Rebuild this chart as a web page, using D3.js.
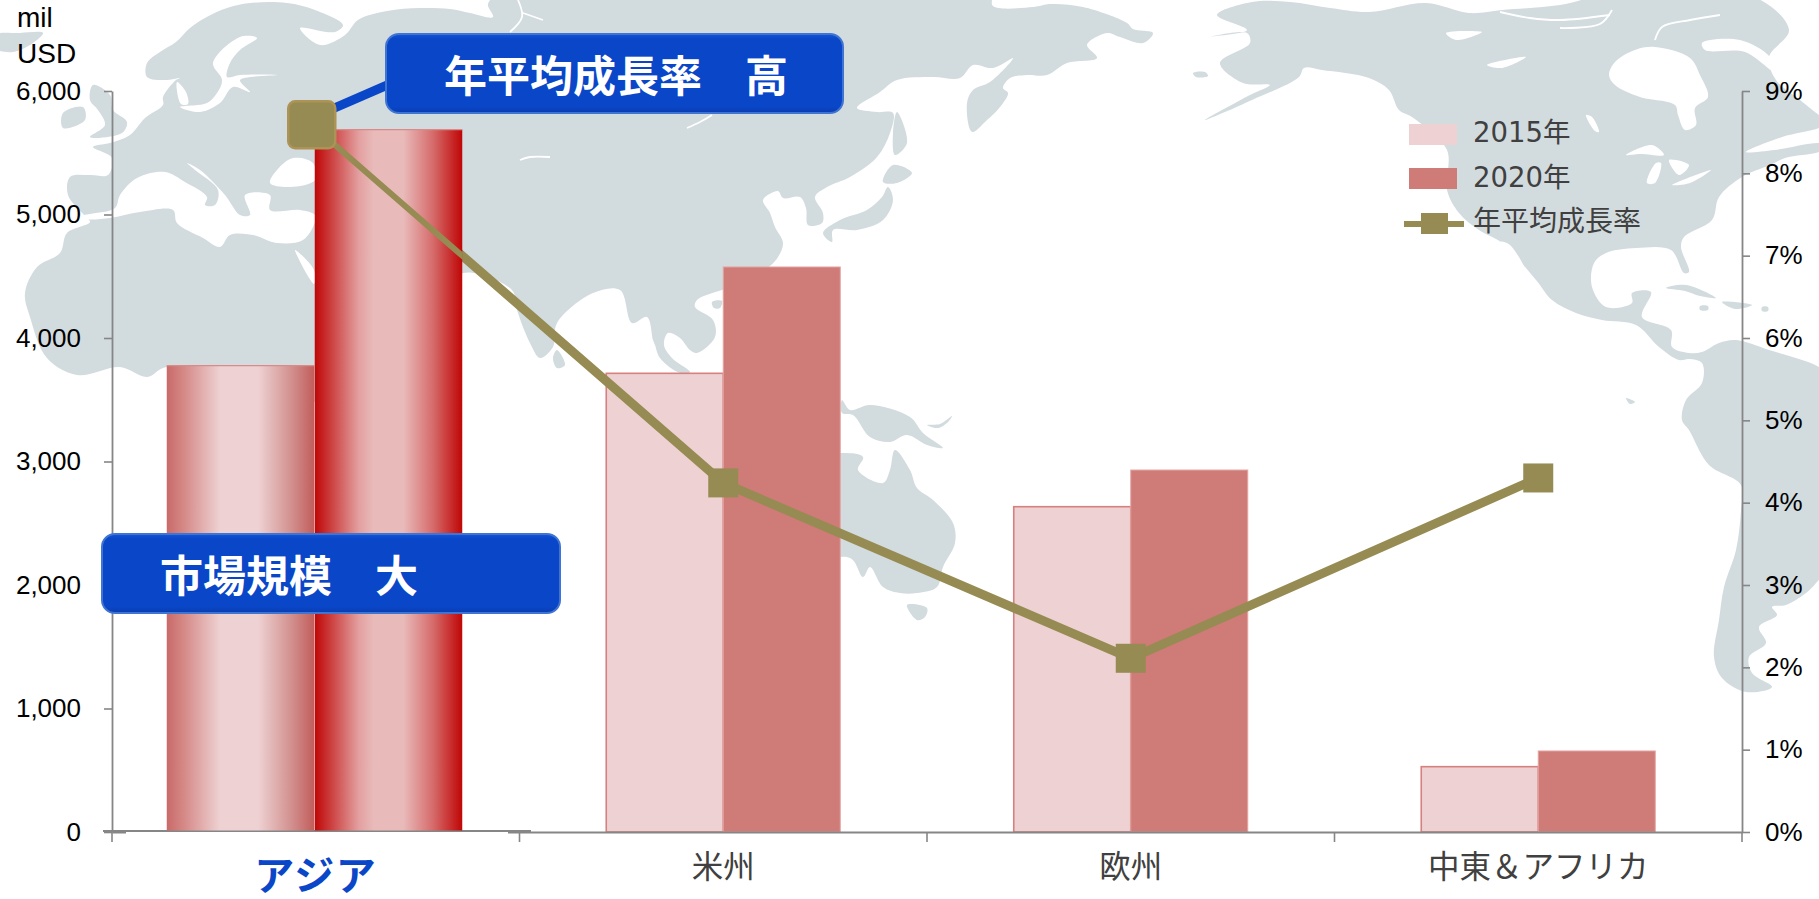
<!DOCTYPE html>
<html>
<head>
<meta charset="utf-8">
<script src="https://cdn.jsdelivr.net/npm/d3@7/dist/d3.min.js"></script>
<style>
    html, body { margin: 0; padding: 0; background: #fff; overflow: hidden; }
    svg { display: block; }
</style>
</head>
<body>
<div id="visualization"></div>
<script>
/*DATA*/
const categories = ["アジア", "米州", "欧州", "中東＆アフリカ"];
const years = ["2015年", "2020年"];
const values2015 = [3776, 3714, 2634, 529];
const values2020 = [5688, 4575, 2931, 656];
const growthRate = [8.59, 4.24, 2.11, 4.30];
const valueTicks = [0, 1000, 2000, 3000, 4000, 5000, 6000];
const rateTicks = [0, 1, 2, 3, 4, 5, 6, 7, 8, 9];
const unitLabels = ["mil", "USD"];
const rateLabel = "年平均成長率";
const calloutRate = "年平均成長率　高";
const calloutSize = "市場規模　大";

/*BACKGROUND MAP - hand traced outlines in page pixels, decoration only*/
const landShapes = [
    // Eurasia + Africa
    [[68,195],[70,177],[90,175],[108,175],[112,158],[93,147],[110,143],[130,135],[145,118],[163,105],[163,97],[176,80],[180,78],[165,80],[147,77],[147,63],[160,52],[176,42],[190,28],[205,18],[227,8],[250,3],[287,3],[315,10],[343,25],[335,32],[300,28],[320,45],[345,35],[358,20],[387,11],[420,8],[450,9],[470,13],[493,17],[488,4],[500,-6],[990,-6],[993,6],[1033,7],[1050,4],[1083,7],[1127,23],[1133,29],[1153,33],[1143,43],[1120,37],[1107,33],[1087,45],[1097,58],[1067,63],[1047,75],[1027,75],[1010,78],[1003,88],[1008,93],[1000,107],[987,120],[972,132],[967,103],[973,90],[990,82],[1013,58],[993,68],[973,65],[960,78],[933,77],[897,80],[880,92],[857,108],[877,112],[893,113],[890,133],[877,157],[850,177],[827,187],[815,197],[823,213],[822,223],[808,225],[806,208],[800,197],[783,198],[778,191],[763,200],[770,213],[775,227],[783,243],[778,257],[770,266],[740,285],[722,290],[697,300],[695,307],[713,320],[715,337],[697,353],[690,350],[680,338],[668,333],[664,345],[672,358],[690,372],[680,373],[660,358],[655,345],[653,340],[647,317],[632,323],[620,290],[593,293],[557,323],[553,347],[540,358],[530,343],[517,310],[512,290],[463,273],[440,300],[440,400],[300,400],[167,367],[147,377],[120,367],[77,375],[47,358],[30,317],[25,293],[37,267],[60,253],[67,233],[90,222],[85,216]],
    // Americas
    [[1217,15],[1252,2],[1290,2],[1330,8],[1369,12],[1426,3],[1469,13],[1502,10],[1560,5],[1602,-4],[1752,-4],[1789,30],[1769,57],[1776,80],[1800,100],[1819,115],[1830,122],[1819,128],[1782,137],[1746,152],[1775,150],[1819,143],[1830,146],[1819,152],[1785,158],[1770,165],[1742,177],[1719,197],[1712,220],[1684,237],[1681,247],[1689,272],[1684,273],[1671,250],[1636,248],[1606,253],[1594,263],[1592,287],[1606,307],[1632,303],[1632,293],[1651,292],[1642,317],[1671,330],[1672,347],[1689,353],[1702,352],[1719,343],[1736,340],[1769,350],[1819,367],[1832,380],[1832,560],[1816,583],[1806,593],[1786,605],[1772,607],[1777,615],[1759,627],[1766,643],[1749,657],[1752,673],[1772,687],[1746,692],[1722,678],[1714,657],[1719,620],[1724,587],[1736,550],[1741,510],[1741,485],[1709,465],[1689,430],[1682,420],[1686,400],[1702,383],[1702,363],[1689,359],[1679,360],[1659,347],[1636,325],[1602,320],[1576,313],[1552,300],[1536,280],[1502,243],[1479,230],[1459,213],[1447,190],[1447,150],[1412,117],[1399,110],[1389,90],[1369,78],[1322,70],[1304,68],[1299,77],[1252,100],[1205,120],[1250,95],[1270,85],[1243,83],[1220,63],[1250,43],[1247,33],[1208,37],[1247,30]],
    // Australia, Tasmania, New Guinea
    [[700,480],[841,453],[863,457],[858,470],[883,483],[890,470],[895,450],[910,470],[917,488],[933,500],[953,523],[955,543],[943,567],[937,587],[917,593],[900,593],[883,587],[870,567],[863,577],[850,558],[780,570],[700,560]],
    [[907,605],[927,608],[925,617],[917,620]],
    [[842,400],[850,410],[870,405],[910,417],[923,433],[943,448],[927,445],[907,435],[890,442],[870,437],[853,415],[842,413]],
    [[927,425],[940,424],[952,416],[948,422],[938,428]],
    // Britain, Ireland, Iceland, Sri Lanka, Hainan
    [[93,85],[110,95],[113,110],[127,122],[122,133],[90,137],[105,125],[98,110],[90,100]],
    [[63,113],[83,107],[85,120],[63,128]],
    [[-6,35],[20,33],[43,33],[33,43],[13,52],[-6,48]],
    [[557,350],[565,365],[557,368],[553,358]],
    [[712,302],[722,301],[720,308],[714,308]],
    // Japan, Sakhalin
    [[888,187],[893,200],[883,220],[857,230],[833,230],[832,242],[823,233],[840,220],[867,210],[882,197]],
    [[893,165],[912,173],[897,183],[883,182]],
    [[897,112],[907,143],[895,155],[893,133]],
    // Caribbean and small islands
    [[1666,288],[1686,285],[1716,298],[1700,296],[1685,291]],
    [[1722,302],[1752,305],[1735,309]],
    [[1700,306],[1708,306],[1708,310],[1700,310]],
    [[1762,307],[1768,307],[1768,311],[1762,311]],
    [[1626,398],[1635,402],[1630,404]],
    [[1193,73],[1205,72],[1208,76],[1196,77]],
    [[167,186],[169,186],[170,196],[166,196]],
    [[193,218],[203,216],[200,223]],
    [[245,220],[262,221],[258,223]]
];

const seaShapes = [
    // Mediterranean
    [[80,216],[90,214],[115,208],[120,195],[137,178],[165,172],[185,182],[207,197],[205,205],[215,205],[218,190],[195,170],[187,163],[200,170],[225,195],[240,215],[250,215],[245,195],[270,195],[270,210],[300,210],[315,215],[315,222],[303,240],[277,243],[253,235],[230,235],[220,247],[203,238],[177,223],[173,210],[140,212],[110,218],[85,219]],
    // Black Sea
    [[270,183],[277,170],[293,158],[313,163],[315,180],[290,187]],
    // Baltic and Skagerrak
    [[257,38],[240,37],[213,63],[222,80],[217,93],[207,103],[180,107],[200,112],[220,103],[233,87],[250,92],[240,80],[277,75],[240,75],[227,77],[230,63],[240,50]],
    [[177,82],[186,92],[188,104],[181,104]],
    // Red Sea
    [[295,250],[314,270],[314,284]],
    // Hudson Bay and strait
    [[1609,75],[1615,62],[1635,50],[1655,47],[1690,58],[1700,75],[1708,97],[1695,108],[1696,125],[1685,130],[1678,115],[1675,105],[1640,97],[1615,85]],
    [[1702,43],[1740,40],[1770,57],[1775,72],[1745,52],[1705,50]],
    // Canadian and US lakes
    [[1446,33],[1482,32],[1456,40]],
    [[1487,65],[1526,57],[1502,68]],
    [[1586,115],[1592,117],[1599,132],[1595,131]],
    [[1626,155],[1652,145],[1664,155],[1640,154]],
    [[1656,163],[1647,183],[1655,183],[1661,163]],
    [[1669,160],[1689,165],[1679,175]],
    [[1672,185],[1711,170],[1690,183]],
    // Gulf of California
    [[1500,242],[1510,245],[1530,283],[1524,283]]
];

// thin white channels, rivers and inlets
const seaStrokes = [
    [[518,0],[522,17],[510,32]],
    [[523,13],[543,20]],
    [[687,128],[700,122],[712,115]],
    [[520,160],[530,157],[550,157]],
    [[1500,12],[1530,18],[1560,20],[1610,15]],
    [[1560,28],[1600,24],[1612,10]],
    [[1655,40],[1662,27],[1690,20],[1720,15]]
];

/*CONFIGURATION*/
const config = {
    width: 1819,
    height: 899,
    margin: { top: 91, right: 77, bottom: 67, left: 112 }
};
const landColor = "#d2dbde";
const axisColor = "#868686";
const lineColor = "#968b52";
const calloutBlue = "#0a46c8";
const labelFont = "'Noto Sans CJK JP', sans-serif";
const digitFont = "'DejaVu Sans', 'Noto Sans CJK JP', sans-serif";
const tickFont = "'Liberation Sans', Arial, sans-serif";
const barSpan = 234;
const asiaSpan = 296;
const asiaMarkerShift = -4;

const plotBottom = config.height - config.margin.bottom;
const plotRight = config.width - config.margin.right;

// main SVG container
const svg = d3.select("#visualization")
    .append("svg")
    .attr("width", config.width)
    .attr("height", config.height);

const defs = svg.append("defs");

function addGradient(id, stops, vertical) {
    const g = defs.append("linearGradient")
        .attr("id", id)
        .attr("x1", 0).attr("y1", 0)
        .attr("x2", vertical ? 0 : 1).attr("y2", vertical ? 1 : 0);
    stops.forEach(s => g.append("stop").attr("offset", s[0]).attr("stop-color", s[1]));
}

addGradient("asia2015", [[0, "#c96a68"], [0.12, "#d58a88"], [0.36, "#eed1d2"], [0.62, "#eed1d2"], [0.85, "#d18f8d"], [1, "#c15d5b"]]);
addGradient("asia2020", [[0, "#c00606"], [0.1, "#cb3a3a"], [0.3, "#e3a0a0"], [0.4, "#e9baba"], [0.6, "#e9baba"], [0.8, "#d66c6c"], [1, "#c00606"]]);
addGradient("calloutFill", [[0, "#1456d8"], [0.06, "#0a46c8"], [0.92, "#0a46c8"], [1, "#0a3cae"]], true);

/*MAP*/
const outline = d3.line().curve(d3.curveCatmullRomClosed.alpha(0.5));
const stroke = d3.line().curve(d3.curveCatmullRom.alpha(0.5));
const mapLayer = svg.append("g");

mapLayer.selectAll(".land").data(landShapes).enter().append("path")
    .attr("d", outline).attr("fill", landColor);
mapLayer.selectAll(".sea").data(seaShapes).enter().append("path")
    .attr("d", outline).attr("fill", "#fff");
mapLayer.selectAll(".channel").data(seaStrokes).enter().append("path")
    .attr("d", stroke).attr("fill", "none").attr("stroke", "#fff").attr("stroke-width", 1.8);

/*SCALES*/
const xScale = d3.scaleBand()
    .domain(categories)
    .range([config.margin.left, plotRight]);

const yValue = d3.scaleLinear()
    .domain([0, 6000])
    .range([plotBottom, config.margin.top]);

const yRate = d3.scaleLinear()
    .domain([0, 9])
    .range([plotBottom, config.margin.top]);

const xYear = d3.scaleBand().domain(years).range([-barSpan / 2, barSpan / 2]);
const xYearAsia = d3.scaleBand().domain(years).range([-asiaSpan / 2, asiaSpan / 2]);

const centerX = c => xScale(c) + xScale.bandwidth() / 2;
const pointX = (c, i) => centerX(c) + (i === 0 ? asiaMarkerShift : 0);

/*BARS*/
const seriesValues = [values2015, values2020];

// the first category is a highlighted picture on top of the line, so it is drawn later
categories.slice(1).forEach((c, ci) => {
    seriesValues.forEach((vals, si) => {
        const v = vals[ci + 1];
        const isOld = si === 0;
        svg.append("rect")
            .attr("x", centerX(c) + xYear(years[si]))
            .attr("y", yValue(v))
            .attr("width", xYear.bandwidth())
            .attr("height", yValue(0) - yValue(v))
            .attr("fill", isOld ? "#eed1d2" : "#cf7b77")
            .attr("stroke", isOld ? "#d6807f" : "#e3a5a2")
            .attr("stroke-width", isOld ? 1.6 : 1);
    });
});

/*AXES*/
const leftAxis = svg.append("g")
    .attr("transform", `translate(${config.margin.left},0)`)
    .call(d3.axisLeft(yValue).tickValues(valueTicks).tickFormat(d3.format(",")).tickSize(8).tickSizeOuter(0).tickPadding(23));

const rightAxis = svg.append("g")
    .attr("transform", `translate(${plotRight},0)`)
    .call(d3.axisRight(yRate).tickValues(rateTicks).tickFormat(d => d + "%").tickSize(8).tickSizeOuter(0).tickPadding(15));

const bottomAxis = svg.append("g")
    .attr("transform", `translate(0,${plotBottom})`)
    .call(d3.axisBottom(xScale).tickSize(0).tickSizeOuter(0));

[leftAxis, rightAxis, bottomAxis].forEach(a => {
    a.select(".domain").attr("stroke", axisColor).attr("stroke-width", 1.8);
    a.selectAll(".tick line").attr("stroke", axisColor).attr("stroke-width", 1.6);
});
[leftAxis, rightAxis].forEach(a => {
    a.selectAll(".tick text")
        .attr("fill", "#000")
        .style("font-family", tickFont)
        .style("font-size", "26px");
});

bottomAxis.selectAll(".tick text")
    .attr("y", 46)
    .attr("dy", 0)
    .attr("fill", "#404040")
    .style("font-family", labelFont)
    .style("font-size", "31.5px");
// liberation first: its smaller descent keeps the label box inside the page
bottomAxis.selectAll(".tick").filter(d => d === categories[0]).select("text")
    .attr("y", 58)
    .attr("fill", "#0a46c8")
    .style("font-family", "'Liberation Sans', 'Noto Sans CJK JP', sans-serif")
    .style("font-size", "40px")
    .style("letter-spacing", "1.5px")
    .style("font-weight", "bold");

// category boundaries get the tick marks
bottomAxis.selectAll(".boundary")
    .data(categories.concat(["end"]))
    .enter().append("line")
    .attr("x1", (d, i) => xScale.range()[0] + i * xScale.step())
    .attr("x2", (d, i) => xScale.range()[0] + i * xScale.step())
    .attr("y1", 0).attr("y2", 10)
    .attr("stroke", axisColor).attr("stroke-width", 1.6);

/*LINE*/
const rateLine = d3.line()
    .x((d, i) => pointX(categories[i], i))
    .y(d => yRate(d));

svg.append("path")
    .datum(growthRate)
    .attr("d", rateLine)
    .attr("fill", "none")
    .attr("stroke", lineColor)
    .attr("stroke-width", 9);

/*ASIA HIGHLIGHT*/
const asiaLift = 1.5;
const asia = categories[0];
const asiaRight = centerX(asia) + xYearAsia(years[1]) + xYearAsia.bandwidth() - 1;

svg.append("rect")
    .attr("x", xScale.range()[0] + 14).attr("y", plotBottom)
    .attr("width", 382).attr("height", 2.5).attr("fill", "#fff");
svg.append("line")
    .attr("x1", xScale.range()[0] - 9).attr("x2", xScale.range()[0] + 419)
    .attr("y1", plotBottom - 1).attr("y2", plotBottom - 1)
    .attr("stroke", axisColor).attr("stroke-width", 2);

seriesValues.forEach((vals, si) => {
    const v = vals[0];
    svg.append("rect")
        .attr("x", centerX(asia) + xYearAsia(years[si]) - 1)
        .attr("y", yValue(v))
        .attr("width", xYearAsia.bandwidth() - 0.5)
        .attr("height", yValue(0) - yValue(v) - asiaLift)
        .attr("fill", si === 0 ? "url(#asia2015)" : "url(#asia2020)");
    svg.append("line")
        .attr("x1", centerX(asia) + xYearAsia(years[si]) - 1)
        .attr("x2", centerX(asia) + xYearAsia(years[si]) + xYearAsia.bandwidth() - 1.5)
        .attr("y1", yValue(v)).attr("y2", yValue(v))
        .attr("stroke", "#d98b89").attr("stroke-width", 1.2);
});

// thin part of the line that lies on the highlighted bars
defs.append("clipPath").attr("id", "asiaClip").append("rect")
    .attr("x", xScale.range()[0]).attr("y", 0)
    .attr("width", asiaRight - xScale.range()[0]).attr("height", plotBottom);
svg.append("path")
    .datum(growthRate)
    .attr("d", rateLine)
    .attr("clip-path", "url(#asiaClip)")
    .attr("fill", "none")
    .attr("stroke", lineColor)
    .attr("stroke-width", 6);

/*CALLOUTS*/
function addCallout(x, y, w, h, label, textX) {
    const g = svg.append("g");
    g.append("rect")
        .attr("x", x).attr("y", y).attr("width", w).attr("height", h).attr("rx", 13)
        .attr("fill", "url(#calloutFill)")
        .attr("stroke", "#3f74d2").attr("stroke-width", 2);
    g.append("text")
        .attr("x", textX).attr("y", y + h - 21)
        .attr("fill", "#fff")
        .style("font-family", labelFont)
        .style("font-size", "43px")
        .style("font-weight", "bold")
        .text(label);
}

// connector from the first point up to the growth rate box
svg.append("line")
    .attr("x1", pointX(asia, 0)).attr("y1", yRate(growthRate[0]) - 7)
    .attr("x2", 392).attr("y2", 83)
    .attr("stroke", calloutBlue).attr("stroke-width", 9);

addCallout(386, 34, 457, 79, calloutRate, 444);
addCallout(102, 534, 458, 79, calloutSize, 160);

/*MARKERS*/
const markerW = 30;
const markerH = 29;
const asiaMarker = 47;

svg.selectAll(".marker")
    .data(growthRate.slice(1))
    .enter().append("rect")
    .attr("x", (d, i) => pointX(categories[i + 1], i + 1) - markerW / 2)
    .attr("y", d => yRate(d) - markerH / 2)
    .attr("width", markerW)
    .attr("height", markerH)
    .attr("fill", lineColor);

svg.append("rect")
    .attr("x", pointX(asia, 0) - asiaMarker / 2)
    .attr("y", yRate(growthRate[0]) - asiaMarker / 2)
    .attr("width", asiaMarker).attr("height", asiaMarker).attr("rx", 7)
    .attr("fill", lineColor)
    .attr("stroke", "#ad9356").attr("stroke-width", 2.5);

/*UNIT LABEL*/
svg.selectAll(".unit")
    .data(unitLabels)
    .enter().append("text")
    .attr("x", 17)
    .attr("y", (d, i) => 27 + i * 36)
    .attr("fill", "#000")
    .style("font-family", tickFont)
    .style("font-size", "28px")
    .text(d => d);

/*LEGEND*/
const legendColors = ["#eed1d2", "#cf7b77"];
const legendX = 1409;
const legend = svg.append("g");

legend.selectAll(".swatch")
    .data(years)
    .enter().append("rect")
    .attr("x", legendX)
    .attr("y", (d, i) => 124 + i * 44)
    .attr("width", 48)
    .attr("height", 21)
    .attr("fill", (d, i) => legendColors[i]);

legend.selectAll(".year")
    .data(years)
    .enter().append("text")
    .attr("x", legendX + 64)
    .attr("y", (d, i) => 142 + i * 44.5)
    .attr("fill", "#404040")
    .style("font-family", digitFont)
    .style("font-size", "27.5px")
    .text(d => d);

legend.append("line")
    .attr("x1", legendX - 5).attr("x2", legendX + 55)
    .attr("y1", 224).attr("y2", 224)
    .attr("stroke", lineColor).attr("stroke-width", 6);
legend.append("rect")
    .attr("x", legendX + 12).attr("y", 213)
    .attr("width", 27).attr("height", 21)
    .attr("fill", lineColor);
legend.append("text")
    .attr("x", legendX + 64)
    .attr("y", 231)
    .attr("fill", "#404040")
    .style("font-family", labelFont)
    .style("font-size", "28px")
    .text(rateLabel);
</script>
</body>
</html>
